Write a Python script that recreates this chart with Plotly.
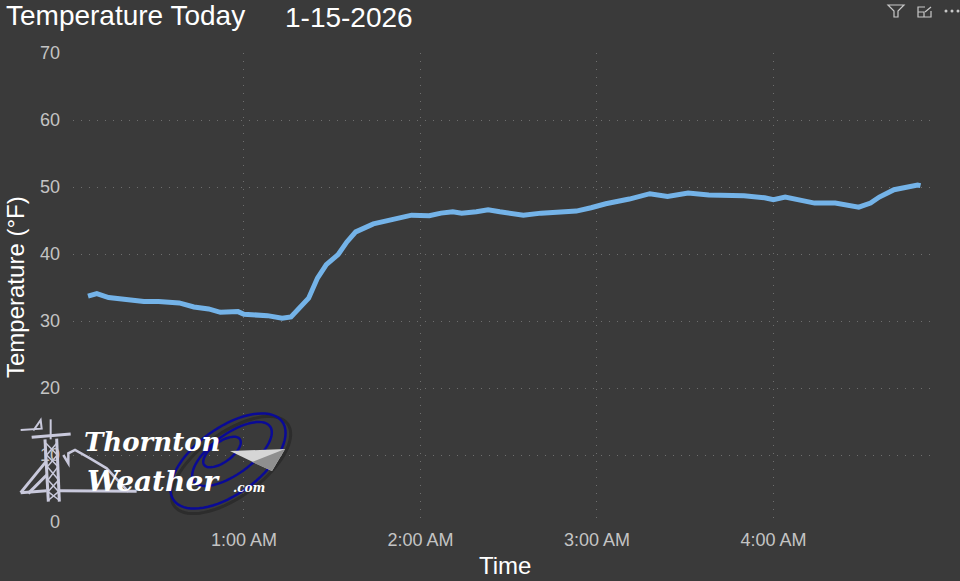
import math

import plotly.graph_objects as go

DAY = "2026-01-15"

TIMES = [
    "00:07", "00:10", "00:14", "00:20", "00:26", "00:31", "00:38", "00:43", "00:48", "00:52",
    "00:58", "01:00", "01:08", "01:13", "01:16", "01:22", "01:25", "01:28", "01:32", "01:35",
    "01:38", "01:44", "01:48", "01:53", "01:57", "02:03", "02:07", "02:11", "02:14", "02:19",
    "02:23", "02:27", "02:30", "02:35", "02:41", "02:46", "02:53", "02:58", "03:03", "03:11",
    "03:18", "03:24", "03:31", "03:38", "03:45", "03:50", "03:57", "04:00", "04:04", "04:09",
    "04:14", "04:21", "04:26", "04:29", "04:33", "04:36", "04:41", "04:45", "04:49", "04:50",
]
TEMPS = [
    33.7, 34.1, 33.5, 33.2, 32.9, 32.9, 32.7, 32.1, 31.8, 31.3,
    31.4, 31.0, 30.8, 30.4, 30.6, 33.4, 36.4, 38.4, 39.9, 41.8,
    43.3, 44.5, 44.9, 45.3, 45.8, 45.7, 46.1, 46.3, 46.1, 46.3,
    46.6, 46.3, 46.1, 45.8, 46.1, 46.2, 46.4, 46.9, 47.5, 48.2,
    49.0, 48.6, 49.1, 48.8, 48.7, 48.7, 48.4, 48.1, 48.5, 48.1,
    47.6, 47.6, 47.3, 47.0, 47.6, 48.5, 49.6, 50.0, 50.3, 50.2,
]
TICK_HOURS = ["01:00", "02:00", "03:00", "04:00"]
TICK_LABELS = ["1:00 AM", "2:00 AM", "3:00 AM", "4:00 AM"]
Y_TICKS = [0, 10, 20, 30, 40, 50, 60, 70]

BG = "#3a3a3a"
TICK_COLOR = "#c4c4c4"
GRID = "#6e6e6e"
LOGO_GREY = "#c9c9dc"
NAVY = "#0a0a96"

PLOT_L, PLOT_R, PLOT_T, PLOT_B = 73, 932, 53, 522


def px(x):
    return (x - PLOT_L) / (PLOT_R - PLOT_L)


def py(y):
    return (PLOT_B - y) / (PLOT_B - PLOT_T)


def poly(points, closed=False):
    parts = [f"{px(x):.5f},{py(y):.5f}" for x, y in points]
    return "M" + " L".join(parts) + (" Z" if closed else "")


def ellipse_path(cx, cy, rx, ry, angle):
    a = math.radians(angle)
    pts = []
    for i in range(72):
        t = 2 * math.pi * i / 72
        ex, ey = rx * math.cos(t), ry * math.sin(t)
        pts.append((cx + ex * math.cos(a) - ey * math.sin(a), cy + ex * math.sin(a) + ey * math.cos(a)))
    return poly(pts, closed=True)


def logo_xy(points):
    return [(x / 3, 400 + y / 3) for x, y in points]


fig = go.Figure()
fig.add_scatter(
    x=[f"{DAY} {t}" for t in TIMES],
    y=TEMPS,
    mode="lines",
    line=dict(color="#74b3e8", width=5),
    hoverinfo="skip",
)

shapes = []


def add_line(points, color=LOGO_GREY, width=1.5):
    shapes.append(dict(type="path", xref="paper", yref="paper", path=poly(logo_xy(points)),
                       line=dict(color=color, width=width)))


# tower and mountain part of the logo
add_line([(62, 90), (125, 86), (122, 60), (100, 92)], width=2)
add_line([(152, 58), (152, 118)], width=2)
add_line([(95, 112), (212, 102)], width=3)
add_line([(135, 118), (145, 305)], width=3)
add_line([(170, 116), (178, 305)], width=3)
add_line([(138, 130), (172, 165), (142, 200), (176, 240), (144, 275), (177, 300)])
add_line([(170, 130), (140, 165), (174, 200), (144, 240), (176, 275), (146, 300)])
add_line([(62, 278), (138, 185)], width=3)
add_line([(85, 280), (140, 225)], width=3)
add_line([(62, 278), (140, 272)], width=3)
add_line([(190, 165), (205, 190), (205, 160), (225, 150), (270, 175), (320, 205), (385, 275)], width=2.5)
add_line([(180, 272), (410, 274)], width=3)

# rings and wedge
for cx, cy, rx, ry, ang, col, w in [
    (231, 465, 70, 32, -36, "#2c2c2c", 3),
    (228, 461, 67, 33, -36, NAVY, 2.5),
    (232, 454, 47, 20, -36, NAVY, 2.5),
    (222, 452, 22, 10, -36, NAVY, 2.5),
]:
    shapes.append(dict(type="path", xref="paper", yref="paper",
                       path=ellipse_path(cx, cy, rx, ry, ang), line=dict(color=col, width=w)))
shapes.append(dict(type="path", xref="paper", yref="paper",
                   path=poly([(230, 451), (285, 449), (272, 471)], closed=True),
                   fillcolor="#d6d6d6", line=dict(width=0)))
shapes.append(dict(type="path", xref="paper", yref="paper",
                   path=poly([(252, 462), (285, 449), (272, 471)], closed=True),
                   fillcolor="#8f8f8f", line=dict(width=0)))

# visual header icons
shapes.append(dict(type="path", xref="paper", yref="paper",
                   path=poly([(888, 5), (904, 5), (898, 11), (898, 17), (894, 17), (894, 11)], closed=True),
                   line=dict(color="#c8c8c8", width=1.2)))
shapes.append(dict(type="path", xref="paper", yref="paper",
                   path=poly([(925, 7), (918, 7), (918, 17), (931, 17), (931, 11)]),
                   line=dict(color="#c8c8c8", width=1.2)))
shapes.append(dict(type="path", xref="paper", yref="paper",
                   path=poly([(918, 12), (924, 12), (924, 17)]) + " " + poly([(925, 12), (931, 7)]),
                   line=dict(color="#c8c8c8", width=1.2)))
for dot_x in [946, 952, 958]:
    shapes.append(dict(type="circle", xref="paper", yref="paper",
                       x0=px(dot_x - 1.5), x1=px(dot_x + 1.5), y0=py(12.5), y1=py(9.5),
                       fillcolor="#c8c8c8", line=dict(width=0)))

FONT = "Liberation Sans, Arial, sans-serif"
SERIF = "DejaVu Serif, serif"


def label(text, x, y, size, color="#ffffff", anchor="left", family=FONT):
    fig.add_annotation(
        text=text, xref="paper", yref="paper", x=px(x), y=py(y), xanchor=anchor, yanchor="middle",
        showarrow=False, font=dict(family=family, size=size, color=color),
    )


label("Temperature Today", 4, 16, 28)
label("1-15-2026", 283, 17, 28)
label("Time", 505, 565, 24, anchor="center")
fig.add_annotation(
    text="Temperature (°F)", xref="paper", yref="paper", x=px(15), y=py(287), xanchor="center",
    yanchor="middle", showarrow=False, textangle=-90, font=dict(family=FONT, size=24, color="#ffffff"),
)
label("<b><i>Thornton</i></b>", 82, 442, 26, family=SERIF)
label("<b><i>Weather</i></b>", 85, 481, 28, family=SERIF)
label("<b><i>.com</i></b>", 231, 488, 12, family=SERIF)

fig.update_layout(
    width=960,
    height=581,
    autosize=False,
    paper_bgcolor=BG,
    plot_bgcolor=BG,
    showlegend=False,
    margin=dict(l=PLOT_L, r=960 - PLOT_R, t=PLOT_T, b=581 - PLOT_B, pad=0),
    shapes=shapes,
)
fig.update_xaxes(
    range=[f"{DAY} 00:01:54", f"{DAY} 04:53:54"],
    tickvals=[f"{DAY} {t}" for t in TICK_HOURS],
    ticktext=TICK_LABELS,
    tickfont=dict(family=FONT, size=18, color=TICK_COLOR),
    ticklabelstandoff=5,
    showgrid=True,
    gridcolor=GRID,
    griddash="1px,7px",
    gridwidth=1,
    zeroline=False,
    showline=False,
    ticks="",
)
fig.update_yaxes(
    range=[0, 70],
    tickvals=Y_TICKS,
    tickfont=dict(family=FONT, size=18, color=TICK_COLOR),
    ticklabelstandoff=12,
    showgrid=True,
    gridcolor=GRID,
    griddash="1px,7px",
    gridwidth=1,
    zeroline=False,
    showline=False,
    ticks="",
)

# the page's default body margin would push the chart off the window
fig.write_html(
    "out.html",
    config=dict(displayModeBar=False),
    post_script="document.body.style.margin='0';document.body.style.overflow='hidden';",
)
